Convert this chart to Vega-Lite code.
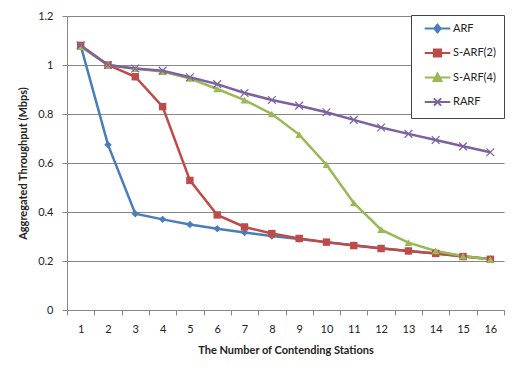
{
  "$schema": "https://vega.github.io/schema/vega-lite/v6.json",
  "width": 437,
  "height": 294,
  "autosize": "none",
  "padding": {"left": 67, "top": 16, "right": 13, "bottom": 66},
  "background": "white",
  "config": {
    "view": {"stroke": null},
    "font": "Lato",
    "axis": {"labelColor": "#222", "titleColor": "#222", "labelFontSize": 11, "titleFontSize": 11, "titleFontWeight": "bold", "domainColor": "#868686", "tickColor": "#868686", "gridColor": "#868686", "tickSize": 5}
  },
  "data": {"values": [
    {"n":1,"series":"ARF","v":1.08},{"n":2,"series":"ARF","v":0.675},{"n":3,"series":"ARF","v":0.393},{"n":4,"series":"ARF","v":0.370},{"n":5,"series":"ARF","v":0.349},{"n":6,"series":"ARF","v":0.332},{"n":7,"series":"ARF","v":0.316},{"n":8,"series":"ARF","v":0.302},{"n":9,"series":"ARF","v":0.290},{"n":10,"series":"ARF","v":0.277},{"n":11,"series":"ARF","v":0.264},{"n":12,"series":"ARF","v":0.252},{"n":13,"series":"ARF","v":0.241},{"n":14,"series":"ARF","v":0.231},{"n":15,"series":"ARF","v":0.219},{"n":16,"series":"ARF","v":0.208},
    {"n":1,"series":"S-ARF(2)","v":1.08},{"n":2,"series":"S-ARF(2)","v":1.0},{"n":3,"series":"S-ARF(2)","v":0.952},{"n":4,"series":"S-ARF(2)","v":0.83},{"n":5,"series":"S-ARF(2)","v":0.529},{"n":6,"series":"S-ARF(2)","v":0.388},{"n":7,"series":"S-ARF(2)","v":0.339},{"n":8,"series":"S-ARF(2)","v":0.312},{"n":9,"series":"S-ARF(2)","v":0.292},{"n":10,"series":"S-ARF(2)","v":0.277},{"n":11,"series":"S-ARF(2)","v":0.263},{"n":12,"series":"S-ARF(2)","v":0.251},{"n":13,"series":"S-ARF(2)","v":0.241},{"n":14,"series":"S-ARF(2)","v":0.231},{"n":15,"series":"S-ARF(2)","v":0.218},{"n":16,"series":"S-ARF(2)","v":0.207},
    {"n":1,"series":"S-ARF(4)","v":1.075},{"n":2,"series":"S-ARF(4)","v":1.0},{"n":3,"series":"S-ARF(4)","v":0.985},{"n":4,"series":"S-ARF(4)","v":0.973},{"n":5,"series":"S-ARF(4)","v":0.945},{"n":6,"series":"S-ARF(4)","v":0.902},{"n":7,"series":"S-ARF(4)","v":0.857},{"n":8,"series":"S-ARF(4)","v":0.80},{"n":9,"series":"S-ARF(4)","v":0.716},{"n":10,"series":"S-ARF(4)","v":0.593},{"n":11,"series":"S-ARF(4)","v":0.437},{"n":12,"series":"S-ARF(4)","v":0.328},{"n":13,"series":"S-ARF(4)","v":0.275},{"n":14,"series":"S-ARF(4)","v":0.241},{"n":15,"series":"S-ARF(4)","v":0.22},{"n":16,"series":"S-ARF(4)","v":0.206},
    {"n":1,"series":"RARF","v":1.08},{"n":2,"series":"RARF","v":1.0},{"n":3,"series":"RARF","v":0.986},{"n":4,"series":"RARF","v":0.977},{"n":5,"series":"RARF","v":0.95},{"n":6,"series":"RARF","v":0.922},{"n":7,"series":"RARF","v":0.886},{"n":8,"series":"RARF","v":0.857},{"n":9,"series":"RARF","v":0.834},{"n":10,"series":"RARF","v":0.807},{"n":11,"series":"RARF","v":0.776},{"n":12,"series":"RARF","v":0.745},{"n":13,"series":"RARF","v":0.719},{"n":14,"series":"RARF","v":0.694},{"n":15,"series":"RARF","v":0.668},{"n":16,"series":"RARF","v":0.644}
  ]},
  "encoding": {
    "x": {"field": "n", "type": "ordinal", "scale": {"paddingInner": 0, "paddingOuter": 0},
      "axis": {"labelAngle": 0, "tickBand": "extent", "grid": false, "labelPadding": 8, "titlePadding": 10, "title": "The Number of Contending Stations"}},
    "y": {"field": "v", "type": "quantitative", "scale": {"domain": [0, 1.2], "nice": false},
      "axis": {"values": [0, 0.2, 0.4, 0.6, 0.8, 1, 1.2], "format": "~g", "grid": true, "labelPadding": 9, "titlePadding": 9, "title": "Aggregated Throughput (Mbps)"}},
    "color": {"field": "series", "type": "nominal",
      "scale": {"domain": ["ARF", "S-ARF(2)", "S-ARF(4)", "RARF"], "range": ["#4A7EBB", "#BE4B48", "#98B954", "#7D60A0"]},
      "legend": {"title": null, "orient": "none", "legendX": 344, "legendY": -1, "strokeColor": "#444", "fillColor": "white", "padding": 8, "symbolOffset": 13, "labelOffset": 10, "rowPadding": 7.5, "labelFontSize": 11, "labelColor": "#222", "symbolSize": 64, "symbolStrokeWidth": 2,
        "encode": {"symbols": {"update": {
          "shape": {"signal": "datum.value === 'ARF' ? 'M-3.2,0L3.2,0M0,-1L0.8,0L0,1L-0.8,0Z' : datum.value === 'S-ARF(2)' ? 'M-3.2,0L3.2,0M-0.9,-0.9L0.9,-0.9L0.9,0.9L-0.9,0.9Z' : datum.value === 'S-ARF(4)' ? 'M-3.2,0L3.2,0M0,-1L1,0.9L-1,0.9Z' : 'M-3.2,0L3.2,0M-0.9,-0.9L0.9,0.9M-0.9,0.9L0.9,-0.9'"},
          "fill": {"scale": "color", "field": "value"},
          "stroke": {"scale": "color", "field": "value"},
          "strokeWidth": {"value": 2},
          "opacity": {"value": 1}
        }}}}
    }
  },
  "layer": [
    {"mark": {"type": "line", "strokeWidth": 2.5}},
    {"transform": [{"filter": "datum.series === 'ARF'"}],
     "mark": {"type": "point", "shape": "diamond", "filled": true, "size": 55, "opacity": 1}},
    {"transform": [{"filter": "datum.series === 'S-ARF(2)'"}],
     "mark": {"type": "point", "shape": "square", "filled": true, "size": 55, "opacity": 1}},
    {"transform": [{"filter": "datum.series === 'S-ARF(4)'"}],
     "mark": {"type": "point", "shape": "triangle-up", "filled": true, "size": 60, "opacity": 1}},
    {"transform": [{"filter": "datum.series === 'RARF'"}],
     "mark": {"type": "point", "shape": "M-1,-1L1,1M-1,1L1,-1", "filled": false, "size": 60, "strokeWidth": 1.2, "opacity": 1}}
  ]
}
